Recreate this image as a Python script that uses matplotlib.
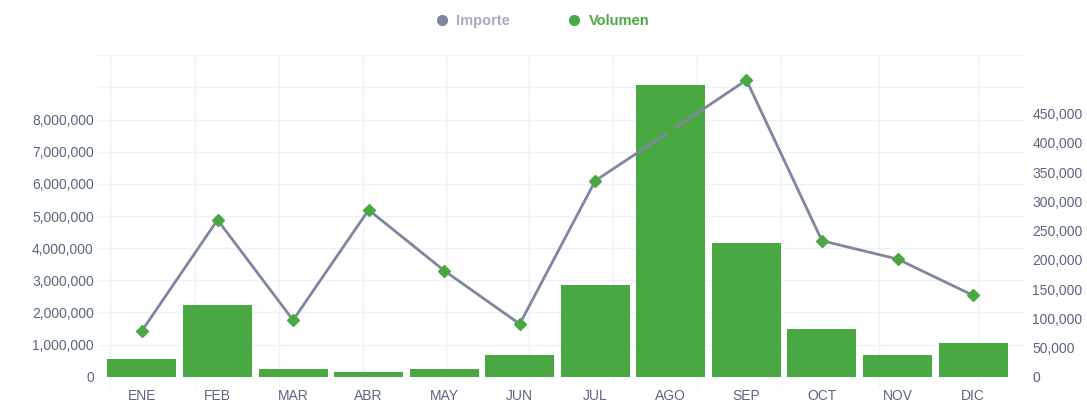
import matplotlib
matplotlib.use("Agg")
import matplotlib.pyplot as plt
from matplotlib.lines import Line2D
from matplotlib.ticker import FixedLocator, FuncFormatter

plt.rcParams['font.family'] = ['Liberation Sans', 'DejaVu Sans']

meses = ["ENE", "FEB", "MAR", "ABR", "MAY", "JUN", "JUL", "AGO", "SEP", "OCT", "NOV", "DIC"]
importe = [1430000, 4880000, 1760000, 5190000, 3300000, 1640000,
           6100000, 7650000, 9230000, 4230000, 3660000, 2530000]
volumen = [30000, 123000, 13000, 8000, 13000, 37000,
           157000, 499000, 229000, 82000, 37000, 58000]
left_ticks = list(range(0, 10000001, 1000000))
right_ticks = list(range(0, 450001, 50000))

verde = "#4aa842"
gris = "#7f869f"
texto = "#5a6581"
rejilla = "#eef1f6"

fig = plt.figure(figsize=(10.87, 4.05), dpi=100)
ax = fig.add_axes([98/1087, 1-376.7/405, (1024-98)/1087, (376.7-55.3)/405])
ax2 = ax.twinx()
ax3 = ax.twinx()

x = list(range(len(meses)))
ax.set_xlim(-0.582, 11.674)
ax.set_ylim(0, 10000000)
ax2.set_ylim(0, 550000)
ax3.set_ylim(0, 10000000)

# grid (left scale)
ax.yaxis.set_major_locator(FixedLocator(left_ticks))
ax.yaxis.set_major_formatter(FuncFormatter(lambda v, p: f"{int(v):,}" if v <= 8000000 else ""))
ax.grid(axis='y', color=rejilla, lw=1)
ax.set_xticks(x)
ax.set_xticklabels(meses)
ax.set_xticks([-0.424, 0.702, 1.81, 2.925, 4.024, 5.122, 6.234, 7.346, 8.458, 9.755, 11.066], minor=True)
ax.grid(axis='x', which='minor', color=rejilla, lw=1)
ax.grid(axis='x', which='major', visible=False)
ax.tick_params(axis='y', length=0, pad=3, labelcolor=texto, labelsize=10)
ax.tick_params(axis='x', which='major', length=0, pad=9, labelcolor=texto, labelsize=10)
ax.tick_params(axis='x', which='minor', length=8, color=rejilla)

# bars (right scale)
ax2.bar(x, volumen, width=0.913, color=verde)
ax2.yaxis.set_major_locator(FixedLocator(right_ticks))
ax2.yaxis.set_major_formatter(FuncFormatter(lambda v, p: f"{int(v):,}"))
ax2.tick_params(axis='y', length=0, pad=6, labelcolor=texto, labelsize=10)

# line (left scale, on top)
ax3.plot(x, importe, color=gris, lw=2, marker='D', ms=6, mfc=verde, mec=verde)
ax3.axis('off')

for a in (ax, ax2):
    for s in a.spines.values():
        s.set_visible(False)

handles = [Line2D([], [], ls='', marker='o', ms=7, color=gris),
           Line2D([], [], ls='', marker='o', ms=7, color=verde)]
leg = fig.legend(handles, ["Importe", "Volumen"], loc='center',
                 bbox_to_anchor=(542/1087, 1-21/405), ncol=2, frameon=False,
                 handletextpad=0.5, columnspacing=3.9, handlelength=1,
                 prop={'weight': 'bold', 'size': 10.5})
leg.get_texts()[0].set_color("#a6abbd")
leg.get_texts()[1].set_color(verde)

fig.savefig("out.png", dpi=100)
